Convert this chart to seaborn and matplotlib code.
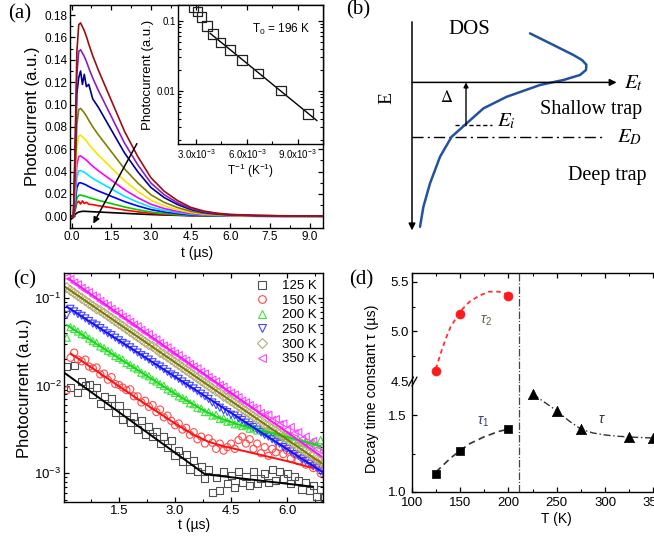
import numpy as np
import pandas as pd
import matplotlib
matplotlib.use("Agg")
import matplotlib.pyplot as plt
import seaborn as sns
from matplotlib.lines import Line2D
from matplotlib.ticker import MultipleLocator, LogLocator, NullFormatter

# ---------------- panel (a): transient photocurrent ----------------
t_a = [-0.06, 0.07, 0.13, 0.2, 0.27, 0.34, 0.41, 0.48, 0.56, 0.65, 0.8, 1.0, 1.25, 1.5,
       1.75, 2.0, 2.5, 3.0, 3.5, 4.0, 4.5, 5.0, 5.5, 6.0, 7.0, 8.0, 9.6]
a_labels = ['100 K', '125 K', '150 K', '175 K', '200 K', '225 K', '250 K', '275 K',
            '300 K', '325 K', '350 K']
pc_100 = [-0.003, -0.001, 0.0015, 0.003, 0.0038, 0.0042, 0.0045, 0.0045, 0.0044, 0.0043, 0.0041,
          0.0039, 0.0036, 0.0033, 0.003, 0.0027, 0.0021, 0.0016, 0.0012, 0.0009, 0.0006, 0.0004,
          0.0003, 0.0002, 0.0001, 0.0, 0.0]
pc_125 = [0, 0, 0.005, 0.012, 0.0135, 0.011, 0.0138, 0.0115, 0.0125, 0.0108, 0.0105, 0.0095,
          0.0086, 0.0077, 0.0066, 0.0057, 0.004, 0.0026, 0.0017, 0.0011, 0.0006, 0.0004, 0.0002,
          0.0001, 0.0001, 0.0, 0.0]
pc_150 = [0, 0, 0.0067, 0.0162, 0.0188, 0.019, 0.0186, 0.0182, 0.0177, 0.0169, 0.0158, 0.0144,
          0.0129, 0.0114, 0.0099, 0.0084, 0.0059, 0.0038, 0.0025, 0.0016, 0.0009, 0.0005, 0.0003,
          0.0002, 0.0001, 0.0001, 0.0]
pc_175 = [0, 0, 0.0105, 0.0255, 0.0297, 0.030, 0.0294, 0.0288, 0.0279, 0.0267, 0.0249, 0.0228,
          0.0204, 0.018, 0.0156, 0.0132, 0.0093, 0.006, 0.0039, 0.0025, 0.0014, 0.0008, 0.0005,
          0.0003, 0.0002, 0.0001, 0.0001]
pc_200 = [0, 0, 0.0144, 0.0349, 0.0406, 0.041, 0.0402, 0.0394, 0.0381, 0.0365, 0.034, 0.0312,
          0.0279, 0.0246, 0.0213, 0.018, 0.0127, 0.0082, 0.0053, 0.0034, 0.0019, 0.0011, 0.0007,
          0.0004, 0.0002, 0.0001, 0.0001]
pc_225 = [0, 0, 0.0189, 0.0459, 0.0535, 0.054, 0.0529, 0.0518, 0.0502, 0.0481, 0.0448, 0.041,
          0.0367, 0.0324, 0.0281, 0.0238, 0.0167, 0.0108, 0.007, 0.0044, 0.0025, 0.0015, 0.0009,
          0.0005, 0.0003, 0.0002, 0.0001]
pc_250 = [0, 0, 0.0254, 0.0616, 0.0718, 0.0725, 0.0711, 0.0696, 0.0674, 0.0645, 0.0602, 0.0551,
          0.0493, 0.0435, 0.0377, 0.0319, 0.0225, 0.0145, 0.0094, 0.0059, 0.0034, 0.002, 0.0012,
          0.0007, 0.0004, 0.0002, 0.0001]
pc_275 = [0, 0, 0.0338, 0.082, 0.0955, 0.0965, 0.0946, 0.0926, 0.0897, 0.0859, 0.0801, 0.0733,
          0.0656, 0.0579, 0.0502, 0.0425, 0.0299, 0.0193, 0.0125, 0.0079, 0.0045, 0.0026, 0.0015,
          0.001, 0.0005, 0.0003, 0.0002]
pc_300 = [0, 0, 0.045, 0.110, 0.124, 0.130, 0.118, 0.127, 0.116, 0.118, 0.105, 0.098, 0.0877,
          0.0774, 0.0671, 0.0568, 0.04, 0.0258, 0.0168, 0.0106, 0.0061, 0.0035, 0.0021, 0.0013,
          0.0006, 0.0004, 0.0003]
pc_325 = [0, 0, 0.0522, 0.1267, 0.1475, 0.149, 0.146, 0.143, 0.1386, 0.1326, 0.1237, 0.1132,
          0.1013, 0.0894, 0.0775, 0.0656, 0.0462, 0.0298, 0.0194, 0.0122, 0.007, 0.004, 0.0024,
          0.0015, 0.0007, 0.0004, 0.0003]
pc_350 = [0, 0, 0.0606, 0.1471, 0.1713, 0.173, 0.1695, 0.1661, 0.1609, 0.154, 0.1436, 0.1315,
          0.1176, 0.1038, 0.09, 0.0761, 0.0536, 0.0346, 0.0225, 0.0142, 0.0081, 0.0047, 0.0028,
          0.0017, 0.0009, 0.0005, 0.0003]
a_colors = ['#000000', '#ff0000', '#00cc00', '#0000ff', '#00e5ff', '#ff00ff', '#f2e600',
            '#808000', '#000090', '#8a1fc0', '#9c0e0e']
arrow_a_start = (2.47, 0.065)
arrow_a_end = (0.82, -0.0065)

# inset of (a)
inv_T = [2.86e-3, 3.08e-3, 3.33e-3, 3.64e-3, 4.0e-3, 4.44e-3, 5.0e-3, 5.71e-3, 6.67e-3,
         8.0e-3, 9.6e-3]
peak_pc = [0.155, 0.135, 0.114, 0.084, 0.064, 0.049, 0.038, 0.0277, 0.0177, 0.0100, 0.00465]
inv_T_fit = [3.83e-3, 10.13e-3]
peak_fit = [0.066, 0.00373]

# ---------------- panel (b): DOS schematic ----------------
dos_x = [5.9, 7.07, 8.07, 8.5, 8.72, 8.7, 8.4, 7.57, 6.4, 4.73, 3.57, 2.73, 1.98, 1.4, 0.9,
         0.57, 0.4]
dos_E = [2.45, 1.87, 1.37, 1.12, 0.88, 0.62, 0.37, 0.12, -0.13, -0.72, -1.3, -2.05, -2.72,
         -3.72, -5.05, -6.22, -7.22]
E_t_level = 0.0
E_i_level = -2.13
E_D_level = -2.72

# ---------------- panel (c): log decays ----------------
t_c = [0.1, 0.2, 0.3, 0.4, 0.5, 0.6, 0.7, 0.8, 0.9, 1.0,
       1.1, 1.2, 1.3, 1.4, 1.5, 1.6, 1.7, 1.8, 1.9, 2.0,
       2.1, 2.2, 2.3, 2.4, 2.5, 2.6, 2.7, 2.8, 2.9, 3.0,
       3.1, 3.2, 3.3, 3.4, 3.5, 3.6, 3.7, 3.8, 3.9, 4.0,
       4.1, 4.2, 4.3, 4.4, 4.5, 4.6, 4.7, 4.8, 4.9, 5.0,
       5.1, 5.2, 5.3, 5.4, 5.5, 5.6, 5.7, 5.8, 5.9, 6.0,
       6.1, 6.2, 6.3, 6.4, 6.5, 6.6, 6.7, 6.8, 6.9, 7.0]
c_labels = ['125 K', '150 K', '200 K', '250 K', '300 K', '350 K']
# log10 of photocurrent
lg_125 = [-1.78, -2.02, -1.77, -2.08, -1.95, -2.00, -1.98, -2.10, -2.02, -2.20,
          -2.12, -2.22, -2.15, -2.30, -2.22, -2.38, -2.30, -2.42, -2.35, -2.50,
          -2.40, -2.55, -2.46, -2.58, -2.52, -2.66, -2.58, -2.70, -2.62, -2.80,
          -2.74, -2.86, -2.78, -2.95, -2.85, -2.98, -2.92, -3.06, -2.96, -3.22,
          -3.05, -3.20, -2.98, -3.12, -3.02, -3.16, -2.98, -3.10, -3.04, -3.14,
          -2.98, -3.12, -3.06, -3.00, -3.10, -2.96, -3.08, -2.98, -3.06, -3.00,
          -3.12, -3.04, -3.08, -3.18, -3.10, -3.20, -3.14, -3.26, -3.18, -3.28]
lg_150 = [-2.05, -1.68, -1.62, -1.70, -1.72, -1.70, -1.78, -1.80, -1.79, -1.87,
          -1.86, -1.93, -1.90, -1.98, -1.99, -2.02, -2.05, -2.04, -2.12, -2.12,
          -2.19, -2.17, -2.24, -2.22, -2.30, -2.27, -2.36, -2.34, -2.40, -2.45,
          -2.43, -2.50, -2.48, -2.56, -2.53, -2.61, -2.58, -2.66, -2.60, -2.65,
          -2.72, -2.66, -2.74, -2.70, -2.66, -2.72, -2.62, -2.58, -2.66, -2.61,
          -2.72, -2.66, -2.77, -2.70, -2.80, -2.72, -2.76, -2.70, -2.78, -2.74,
          -2.83, -2.78, -2.86, -2.82, -2.90, -2.84, -2.94, -2.88, -3.00, -2.95]
lg_200 = [-1.45, -1.33, -1.35, -1.38, -1.41, -1.42, -1.46, -1.49, -1.51, -1.55,
          -1.57, -1.60, -1.62, -1.66, -1.68, -1.70, -1.74, -1.76, -1.79, -1.81,
          -1.85, -1.87, -1.89, -1.93, -1.95, -1.98, -2.00, -2.04, -2.06, -2.08,
          -2.12, -2.14, -2.16, -2.20, -2.21, -2.25, -2.26, -2.30, -2.30, -2.34,
          -2.33, -2.38, -2.37, -2.41, -2.40, -2.44, -2.43, -2.46, -2.45, -2.49,
          -2.48, -2.51, -2.50, -2.53, -2.52, -2.56, -2.54, -2.58, -2.57, -2.60,
          -2.58, -2.62, -2.61, -2.65, -2.63, -2.67, -2.64, -2.68, -2.62, -2.70]
lg_250 = [-1.19, -1.12, -1.15, -1.18, -1.20, -1.23, -1.26, -1.29, -1.31, -1.34,
          -1.37, -1.40, -1.42, -1.45, -1.48, -1.51, -1.53, -1.56, -1.59, -1.62,
          -1.65, -1.67, -1.70, -1.73, -1.76, -1.78, -1.81, -1.84, -1.87, -1.89,
          -1.92, -1.95, -1.98, -2.00, -2.03, -2.06, -2.09, -2.12, -2.15, -2.19,
          -2.22, -2.25, -2.28, -2.30, -2.33, -2.34, -2.37, -2.39, -2.42, -2.45,
          -2.47, -2.50, -2.53, -2.56, -2.58, -2.61, -2.64, -2.66, -2.70, -2.72,
          -2.75, -2.78, -2.80, -2.84, -2.86, -2.89, -2.92, -2.94, -2.98, -3.01]
lg_300 = [-0.88, -0.91, -0.94, -0.97, -1.00, -1.03, -1.06, -1.09, -1.12, -1.14,
          -1.17, -1.20, -1.23, -1.26, -1.29, -1.32, -1.35, -1.38, -1.41, -1.44,
          -1.47, -1.50, -1.53, -1.55, -1.58, -1.62, -1.64, -1.67, -1.70, -1.73,
          -1.76, -1.79, -1.82, -1.85, -1.88, -1.91, -1.94, -1.97, -2.00, -2.03,
          -2.06, -2.08, -2.12, -2.14, -2.17, -2.20, -2.23, -2.26, -2.29, -2.32,
          -2.35, -2.38, -2.40, -2.44, -2.46, -2.49, -2.52, -2.55, -2.58, -2.60,
          -2.64, -2.66, -2.70, -2.72, -2.75, -2.78, -2.80, -2.84, -2.86, -2.89]
lg_350 = [-0.76, -0.78, -0.82, -0.84, -0.88, -0.91, -0.93, -0.97, -0.99, -1.03,
          -1.06, -1.08, -1.12, -1.15, -1.17, -1.21, -1.23, -1.27, -1.30, -1.32,
          -1.36, -1.39, -1.41, -1.45, -1.47, -1.51, -1.54, -1.56, -1.60, -1.63,
          -1.65, -1.69, -1.71, -1.75, -1.78, -1.80, -1.84, -1.86, -1.90, -1.93,
          -1.95, -1.99, -2.01, -2.05, -2.08, -2.10, -2.13, -2.17, -2.19, -2.22,
          -2.25, -2.26, -2.31, -2.33, -2.33, -2.39, -2.38, -2.44, -2.43, -2.50,
          -2.47, -2.54, -2.53, -2.61, -2.58, -2.66, -2.63, -2.72, -2.70, -2.77]
fit_t_125 = [0.05, 3.8, 6.7]
fit_lg_125 = [-1.855, -3.01, -3.153]
fit_t_150 = [0.2, 1.0, 2.0, 3.0, 3.5, 3.9, 4.3, 4.8, 5.5, 6.0, 6.7]
fit_lg_150 = [-1.63, -1.86, -2.15, -2.43, -2.56, -2.64, -2.69, -2.74, -2.81, -2.86, -2.94]
fit_t_200 = [0.1, 1.0, 2.0, 3.0, 3.4, 3.8, 4.2, 4.6, 5.0, 5.5, 6.0, 6.5, 6.9]
fit_lg_200 = [-1.305, -1.55, -1.82, -2.09, -2.19, -2.29, -2.37, -2.43, -2.48, -2.53, -2.585,
              -2.64, -2.69]
fit_t_250 = [0.1, 6.93]
fit_lg_250 = [-1.096, -2.98]
fit_t_300 = [0.05, 6.93]
fit_lg_300 = [-0.867, -2.886]
fit_t_350 = [0.14, 6.93]
fit_lg_350 = [-0.771, -2.81]
c_marker_colors = ['#505050', '#ff4a4a', '#3fe03f', '#4545ff', '#b3ad78', '#ff45ff']
c_line_colors = ['#000000', '#ff1010', '#10dd10', '#1010ff', '#7a7a00', '#ff10ff']
c_markers = ['s', 'o', '^', 'v', 'D', '<']

# ---------------- panel (d): decay constants ----------------
T_low = [125, 150, 200]
tau2 = [4.60, 5.18, 5.36]
tau1 = [1.12, 1.27, 1.41]
T_high = [225, 250, 275, 325, 350]
tau = [1.64, 1.53, 1.41, 1.36, 1.35]
tau2_curve_T = [125, 130, 135, 140, 150, 160, 170, 180, 190, 200]
tau2_curve = [4.62, 4.78, 4.92, 5.04, 5.20, 5.30, 5.36, 5.40, 5.40, 5.37]
tau1_curve_T = [125, 140, 150, 160, 175, 190, 200]
tau1_curve = [1.13, 1.22, 1.27, 1.315, 1.36, 1.395, 1.41]
tau_curve_T = [225, 237.5, 250, 262.5, 275, 287.5, 300, 312.5, 325, 337.5, 350, 362.5]
tau_curve = [1.64, 1.585, 1.53, 1.465, 1.41, 1.385, 1.372, 1.364, 1.359, 1.355, 1.352, 1.350]
T_split = 211

# ---------------- style ----------------
sns.set_theme(style="ticks")
plt.rcParams.update({
    "font.family": ["Liberation Sans", "DejaVu Sans"],
    "mathtext.fontset": "custom",
    "mathtext.rm": "Liberation Sans",
    "mathtext.it": "Liberation Sans:italic",
    "mathtext.bf": "Liberation Sans:bold",
    "xtick.direction": "in", "ytick.direction": "in",
    "xtick.top": True, "ytick.right": True,
    "xtick.major.size": 3.5, "ytick.major.size": 3.5,
    "xtick.minor.size": 2.0, "ytick.minor.size": 2.0,
    "xtick.major.width": 0.9, "ytick.major.width": 0.9,
    "xtick.minor.width": 0.8, "ytick.minor.width": 0.8,
    "axes.linewidth": 1.0, "axes.edgecolor": "black",
    "xtick.color": "black", "ytick.color": "black",
    "axes.labelcolor": "black", "text.color": "black",
})
SERIF = ["Liberation Serif", "DejaVu Serif"]

W, H = 654, 542
fig = plt.figure(figsize=(W / 100, H / 100), dpi=100)


def rect(x0, y0, x1, y1):
    return [x0 / W, 1 - y1 / H, (x1 - x0) / W, (y1 - y0) / H]


# ---------------- (a) ----------------
ax_a = fig.add_axes(rect(70, 5, 323.3, 228.3))
df_a = pd.concat([pd.DataFrame({"t": t_a, "I": v, "T": lab})
                  for v, lab in zip([pc_100, pc_125, pc_150, pc_175, pc_200, pc_225, pc_250,
                                     pc_275, pc_300, pc_325, pc_350], a_labels)])
sns.lineplot(data=df_a, x="t", y="I", hue="T", hue_order=a_labels,
             palette=dict(zip(a_labels, a_colors)), estimator=None, sort=False,
             legend=False, linewidth=1.2, ax=ax_a)
ax_a.annotate("", xy=arrow_a_end, xytext=arrow_a_start,
              arrowprops=dict(arrowstyle="-|>", color="black", lw=1.1,
                              mutation_scale=9, shrinkA=0, shrinkB=0))
ax_a.set_xlim(-0.06, 9.52)
ax_a.set_ylim(-0.0107, 0.189)
a_xticks = [0.0, 1.5, 3.0, 4.5, 6.0, 7.5, 9.0]
ax_a.set_xticks(a_xticks, [f"{v:.1f}" for v in a_xticks])
a_yticks = [0.00, 0.02, 0.04, 0.06, 0.08, 0.10, 0.12, 0.14, 0.16, 0.18]
ax_a.set_yticks(a_yticks, [f"{v:.2f}" for v in a_yticks])
ax_a.xaxis.set_minor_locator(MultipleLocator(0.75))
ax_a.yaxis.set_minor_locator(MultipleLocator(0.01))
ax_a.tick_params(labelsize=8.5, pad=2)
ax_a.set_xlabel("t (\u00b5s)", fontsize=10, labelpad=2)
ax_a.set_ylabel("Photocurrent (a.u.)", fontsize=12, labelpad=3)

ax_in = fig.add_axes(rect(178.3, 5, 323.3, 144))
ax_in.set_facecolor("white")
ax_in.set_yscale("log")
sns.lineplot(x=inv_T_fit, y=peak_fit, color="black", linewidth=1.0, ax=ax_in,
             estimator=None, sort=False)
sns.scatterplot(x=inv_T, y=peak_pc, marker="s", s=48, color="none",
                edgecolor="#222222", linewidth=0.9, ax=ax_in, zorder=3)
ax_in.collections[-1].set_facecolor("none")
ax_in.set_xlim(1.955e-3, 10.5e-3)
ax_in.set_ylim(0.00173, 0.1675)
in_xticks = [3e-3, 6e-3, 9e-3]
in_xticklabels = [r"3.0x10$^{-3}$", r"6.0x10$^{-3}$", r"9.0x10$^{-3}$"]
ax_in.set_xticks(in_xticks, in_xticklabels)
ax_in.xaxis.set_minor_locator(MultipleLocator(1.5e-3))
ax_in.set_yticks([0.01, 0.1], ["0.01", "0.1"])
ax_in.yaxis.set_minor_locator(LogLocator(subs=range(2, 10)))
ax_in.yaxis.set_minor_formatter(NullFormatter())
ax_in.tick_params(labelsize=7, pad=2)
ax_in.set_xlabel(r"T$^{-1}$ (K$^{-1}$)", fontsize=8.5, labelpad=1)
ax_in.set_ylabel("Photocurrent (a.u.)", fontsize=9.5, labelpad=2)
ax_in.text(8.0e-3, 0.076, r"T$_0$ = 196 K", fontsize=8.5, ha="center", va="center")

# ---------------- (b) ----------------
ax_b = fig.add_axes(rect(380, 5, 654, 245))
ax_b.set_xlim(-1.6, 12.1)
ax_b.set_ylim(-8.13, 3.87)
ax_b.axis("off")
ax_b.annotate("", xy=(0, -7.4), xytext=(0, 3.03),
              arrowprops=dict(arrowstyle="-|>", color="black", lw=1.1,
                              mutation_scale=10, shrinkA=0, shrinkB=0))
ax_b.annotate("", xy=(10.23, E_t_level), xytext=(0, E_t_level),
              arrowprops=dict(arrowstyle="-|>", color="black", lw=1.1,
                              mutation_scale=10, shrinkA=0, shrinkB=0))
ax_b.plot([0, 9.57], [E_D_level, E_D_level], color="black", lw=1.0,
          ls=(0, (8, 3, 1.5, 3)))
ax_b.plot([2.15, 3.99], [E_i_level, E_i_level], color="black", lw=1.0, ls=(0, (3, 2)))
ax_b.annotate("", xy=(2.7, E_t_level), xytext=(2.7, E_i_level),
              arrowprops=dict(arrowstyle="-|>", color="black", lw=1.0,
                              mutation_scale=7, shrinkA=0, shrinkB=0))
sns.lineplot(x=dos_x, y=dos_E, color="#23529c", linewidth=1.8, sort=False,
             estimator=None, ax=ax_b)
ax_b.text(2.85, 2.67, "DOS", fontsize=15, family=SERIF, ha="center", va="center")
ax_b.text(-1.27, -0.79, "E", fontsize=14, family=SERIF, rotation=90,
          ha="center", va="center")
ax_b.text(1.75, -0.72, r"$\mathit{\Delta}$", fontsize=12, ha="center", va="center",
          math_fontfamily="stix")
ax_b.text(4.25, -1.95, r"$E_i$", fontsize=15, ha="left", va="center",
          math_fontfamily="stix")
ax_b.text(10.6, -0.05, r"$E_t$", fontsize=15, ha="left", va="center",
          math_fontfamily="stix")
ax_b.text(10.25, -2.76, r"$E_D$", fontsize=15, ha="left", va="center",
          math_fontfamily="stix")
ax_b.text(6.4, -1.34, "Shallow trap", fontsize=14.5, family=SERIF, ha="left", va="center")
ax_b.text(9.75, -4.64, "Deep trap", fontsize=14.5, family=SERIF, ha="center", va="center")

# ---------------- (c) ----------------
ax_c = fig.add_axes(rect(64.3, 273.3, 323.3, 502.3))
ax_c.set_yscale("log")
df_c = pd.concat([pd.DataFrame({"t": t_c, "I": np.power(10.0, v), "T": lab})
                  for v, lab in zip([lg_125, lg_150, lg_200, lg_250, lg_300, lg_350],
                                    c_labels)])
sns.scatterplot(data=df_c, x="t", y="I", hue="T", style="T", hue_order=c_labels,
                style_order=c_labels, markers=dict(zip(c_labels, c_markers)),
                palette=dict(zip(c_labels, c_marker_colors)), s=26, linewidth=0.8,
                legend=False, ax=ax_c)
pts = ax_c.collections[-1]
pts.set_edgecolors(pts.get_facecolors())
pts.set_facecolors("none")
df_fit = pd.concat([pd.DataFrame({"t": ft, "I": np.power(10.0, fl), "T": lab})
                    for ft, fl, lab in zip(
                        [fit_t_125, fit_t_150, fit_t_200, fit_t_250, fit_t_300, fit_t_350],
                        [fit_lg_125, fit_lg_150, fit_lg_200, fit_lg_250, fit_lg_300, fit_lg_350],
                        c_labels)])
sns.lineplot(data=df_fit, x="t", y="I", hue="T", hue_order=c_labels,
             palette=dict(zip(c_labels, c_line_colors)), estimator=None, sort=False,
             legend=False, linewidth=1.4, ax=ax_c)
ax_c.set_xlim(0.035, 6.97)
ax_c.set_ylim(4.67e-4, 0.193)
c_xticks = [1.5, 3.0, 4.5, 6.0]
ax_c.set_xticks(c_xticks, [f"{v:.1f}" for v in c_xticks])
ax_c.xaxis.set_minor_locator(MultipleLocator(0.75))
ax_c.yaxis.set_major_locator(LogLocator(base=10))
ax_c.yaxis.set_minor_locator(LogLocator(subs=range(2, 10)))
ax_c.yaxis.set_minor_formatter(NullFormatter())
ax_c.tick_params(labelsize=9.5, pad=2)
ax_c.set_xlabel("t (\u00b5s)", fontsize=10, labelpad=1)
ax_c.set_ylabel("Photocurrent (a.u.)", fontsize=12, labelpad=2)
handles = [Line2D([], [], ls="", marker=m, mfc="none", mec=c, ms=5.5, mew=0.8)
           for m, c in zip(c_markers, c_marker_colors)]
ax_c.legend(handles, c_labels, loc="upper right", frameon=False, fontsize=9.5,
            handlelength=1.0, handletextpad=1.0, labelspacing=0.18,
            borderaxespad=0.3, borderpad=0.2)

# ---------------- (d) ----------------
ax_du = fig.add_axes(rect(411.7, 273.3, 701.7, 381))
ax_dl = fig.add_axes(rect(411.7, 381, 701.7, 492))
for ax in (ax_du, ax_dl):
    ax.set_xlim(100, 400)
    ax.xaxis.set_major_locator(MultipleLocator(50))
    ax.xaxis.set_minor_locator(MultipleLocator(25))
    ax.yaxis.set_minor_locator(MultipleLocator(0.25))
    ax.tick_params(labelsize=9.5, pad=2)
    ax.axvline(T_split, color="#444444", lw=0.9, ls=(0, (6, 1.5, 1, 1.5)))

sns.lineplot(x=tau2_curve_T, y=tau2_curve, color="#ff3030", linewidth=1.3,
             linestyle=(0, (2.5, 2)), estimator=None, sort=False, ax=ax_du)
sns.scatterplot(x=T_low, y=tau2, color="#ff1a1a", s=42, marker="o", edgecolor="#ff1a1a",
                linewidth=0.5, ax=ax_du, zorder=3)
ax_du.set_ylim(4.5, 5.585)
ax_du.set_yticks([4.5, 5.0, 5.5], ["4.5", "5.0", "5.5"])
ax_du.spines["bottom"].set_visible(False)
ax_du.tick_params(axis="x", which="both", bottom=False, labelbottom=False, top=True)
ax_du.set_xlabel("")
ax_du.text(176.5, 5.11, r"$\tau_2$", fontsize=10, color="#5c6247", ha="center", va="center")

sns.lineplot(x=tau1_curve_T, y=tau1_curve, color="#333333", linewidth=1.2,
             linestyle=(0, (4, 2.5)), estimator=None, sort=False, ax=ax_dl)
sns.lineplot(x=tau_curve_T, y=tau_curve, color="#333333", linewidth=1.0,
             linestyle=(0, (5, 2, 1, 2)), estimator=None, sort=False, ax=ax_dl)
sns.scatterplot(x=T_low, y=tau1, color="black", s=36, marker="s", edgecolor="black",
                linewidth=0.5, ax=ax_dl, zorder=3)
sns.scatterplot(x=T_high, y=tau, color="black", s=55, marker="^", edgecolor="black",
                linewidth=0.5, ax=ax_dl, zorder=3)
ax_dl.set_ylim(1.0, 1.724)
ax_dl.set_yticks([1.0, 1.5], ["1.0", "1.5"])
ax_dl.spines["top"].set_visible(False)
ax_dl.tick_params(axis="x", which="both", top=False)
ax_dl.tick_params(axis="x", pad=3.5)
ax_dl.tick_params(axis="y", pad=3.5)
ax_dl.set_xlabel("T (K)", fontsize=10, labelpad=2)
ax_dl.text(174, 1.456, r"$\tau_1$", fontsize=10, color="#3a3a8c", ha="center", va="center")
ax_dl.text(297, 1.474, r"$\tau$", fontsize=10, color="#333333", ha="center", va="center")

# axis break marks on the left spine
for dx in (0, 3.5):
    fig.add_artist(Line2D([(408.5 + dx) / W, (413.5 + dx) / W], [1 - 386 / H, 1 - 377 / H],
                          color="black", lw=0.9, transform=fig.transFigure))
fig.text(372 / W, 1 - 389 / H, "Decay time constant \u03c4 (\u00b5s)", fontsize=10.3,
         rotation=90, ha="center", va="center")

# panel labels
for lab, (px, py) in zip(["(a)", "(b)", "(c)", "(d)"],
                         [(20, 14), (358, 10), (25, 280), (361, 280)]):
    fig.text(px / W, 1 - py / H, lab, fontsize=15, family=SERIF, ha="center", va="center")

fig.savefig("out.png", dpi=100)
